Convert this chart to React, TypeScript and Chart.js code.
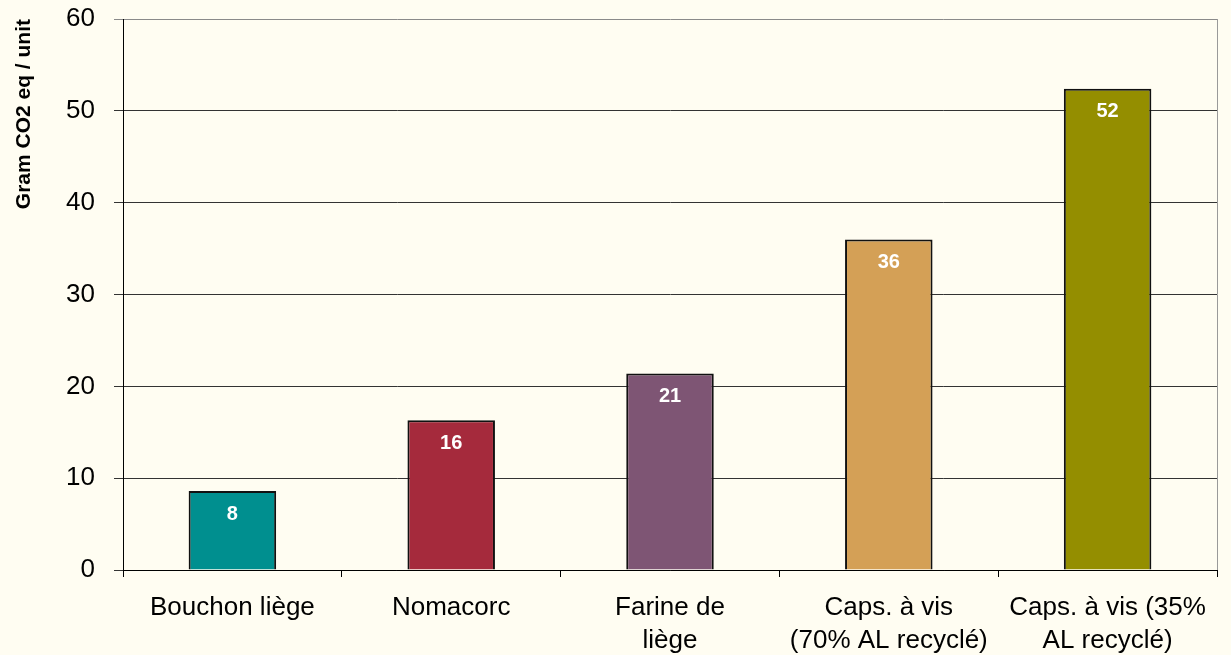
import React, { useEffect, useRef } from "react";
import { Chart, registerables } from "chart.js";

Chart.register(...registerables);

const categories: (string | string[])[] = [
  "Bouchon liège",
  "Nomacorc",
  ["Farine de", "liège"],
  ["Caps. à vis", "(70% AL recyclé)"],
  ["Caps. à vis (35%", "AL recyclé)"],
];
const values = [8.6, 16.3, 21.4, 36.0, 52.4];
const barColors = ["#008F8F", "#A52A3C", "#7E5574", "#D4A056", "#948E00"];
const yTicks = [0, 10, 20, 30, 40, 50, 60];
const yTitle = "Gram CO2 eq / unit";

const FONT = "'Liberation Sans', Arial, Helvetica, sans-serif";
const BG = "#FFFDF2";

const labelPlugin = {
  id: "barLabels",
  afterDatasetsDraw(chart: any) {
    const ctx = chart.ctx;
    const meta = chart.getDatasetMeta(0);
    ctx.save();
    ctx.font = `bold 20px ${FONT}`;
    ctx.fillStyle = "#FFFFFF";
    ctx.textAlign = "center";
    ctx.textBaseline = "middle";
    meta.data.forEach((bar: any, i: number) => {
      const v = chart.data.datasets[0].data[i] as number;
      ctx.fillText(String(Math.trunc(v)), bar.x, bar.y + 23);
    });
    ctx.restore();
  },
};

const framePlugin = {
  id: "frame",
  beforeDraw(chart: any) {
    const ctx = chart.ctx;
    ctx.save();
    ctx.fillStyle = BG;
    ctx.fillRect(0, 0, chart.width, chart.height);
    ctx.restore();
  },
  afterDraw(chart: any) {
    const { ctx, chartArea } = chart;
    ctx.save();
    ctx.strokeStyle = "#9A9A9A";
    ctx.lineWidth = 1;
    ctx.beginPath();
    ctx.moveTo(chartArea.right + 0.5, chartArea.top);
    ctx.lineTo(chartArea.right + 0.5, chartArea.bottom);
    ctx.stroke();
    ctx.restore();
  },
};

export default function App() {
  const ref = useRef<HTMLCanvasElement | null>(null);
  useEffect(() => {
    if (!ref.current) return;
    document.body.style.background = BG;
    const chart = new Chart(ref.current, {
      type: "bar",
      data: {
        labels: categories,
        datasets: [
          {
            data: values,
            backgroundColor: barColors,
            borderColor: "#111111",
            borderWidth: 2,
            barPercentage: 0.4,
            categoryPercentage: 1,
          },
        ],
      },
      options: {
        animation: false,
        responsive: false,
        layout: { padding: { top: 19, right: 14, left: 0, bottom: 0 } },
        plugins: {
          legend: { display: false },
          tooltip: { enabled: false },
        },
        scales: {
          x: {
            grid: {
              display: true,
              drawOnChartArea: false,
              drawTicks: true,
              tickLength: 7,
              color: "#000000",
              offset: true,
            },
            border: { display: true, color: "#000000", width: 1 },
            ticks: {
              color: "#000000",
              font: { family: FONT, size: 26, lineHeight: 1.27 },
              padding: 14,
              maxRotation: 0,
              minRotation: 0,
              autoSkip: false,
            },
            afterFit(scale: any) {
              scale.height = 85;
              scale.paddingLeft = 0;
              scale.paddingRight = 0;
            },
          },
          y: {
            min: 0,
            max: 60,
            afterBuildTicks(scale: any) {
              scale.ticks = yTicks.map((v) => ({ value: v }));
            },
            grid: {
              color: (c: any) => (c.tick && c.tick.value === 60 ? "#8A8A8A" : "#333333"),
              drawTicks: true,
              tickLength: 9,
            },
            border: { display: true, color: "#000000", width: 1 },
            ticks: {
              color: "#000000",
              font: { family: FONT, size: 26 },
              padding: 19,
            },
            title: {
              display: true,
              text: yTitle,
              align: "end",
              color: "#000000",
              font: { family: FONT, size: 21, weight: "bold" },
              padding: { top: 12, bottom: 0 },
            },
            afterFit(scale: any) {
              scale.width = 123;
              scale.paddingTop = 0;
              scale.paddingBottom = 0;
            },
          },
        },
      },
      plugins: [framePlugin, labelPlugin],
    } as any);
    return () => chart.destroy();
  }, []);
  return (
    <div style={{ position: "absolute", left: 0, top: 0, width: 1231, height: 655, background: BG }}>
      <canvas ref={ref} width={1231} height={655} style={{ display: "block" }} />
    </div>
  );
}
